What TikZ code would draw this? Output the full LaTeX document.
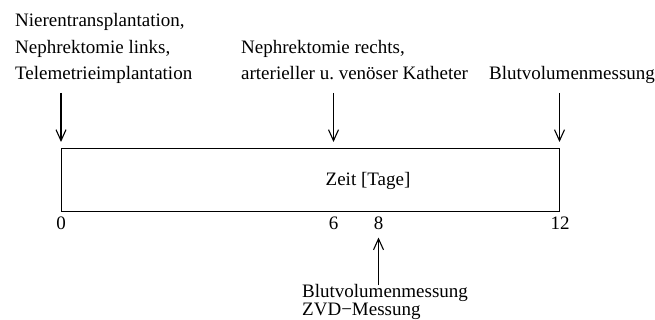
\documentclass[tikz,border=0pt]{standalone}
\usepackage{fontspec}
\setmainfont{Liberation Serif}
\usetikzlibrary{arrows.meta}
\begin{document}
\begin{tikzpicture}[x=1pt,y=-1pt,
  lbl/.style={inner sep=0pt,font=\fontsize{19}{23}\selectfont},
  arr/.style={line width=1.1pt,-{Straight Barb[length=11pt,width=10pt,line width=1.1pt]}},
  timebox/.style={draw,line width=1.4pt,inner sep=0pt,minimum width=498pt,minimum height=63pt,anchor=north west}]
\useasboundingbox (0,0) rectangle (655,320);

% event descriptions above the time line
\node[lbl,anchor=base west] (l1) at (15,26.7) {Nierentransplantation,};
\node[lbl,anchor=base west] (l2) at (15,53.3) {Nephrektomie links,};
\node[lbl,anchor=base west] (l3) at (15,80) {Telemetrieimplantation};
\node[lbl,anchor=base west] (m1) at (241,53.3) {Nephrektomie rechts,};
\node[lbl,anchor=base west] (m2) at (241,80) {arterieller u.\ venöser Katheter};
\node[lbl,anchor=base west] (r1) at (489,80) {Blutvolumenmessung};

% time line box
\node[timebox] (box) at (61,148) {};
\node[lbl] (zeit) at (368,181) {Zeit [Tage]};

% day labels
\node[lbl,anchor=base] (d0) at (61,229.5) {0};
\node[lbl,anchor=base] (d6) at (333.5,229.5) {6};
\node[lbl,anchor=base] (d8) at (378.5,229.5) {8};
\node[lbl,anchor=base] (d12) at (560,229.5) {12};

% event description below the time line
\node[lbl,anchor=base west] (b1) at (302,297) {Blutvolumenmessung};
\node[lbl,anchor=base west] (b2) at (302,315.5) {ZVD−Messung};

% arrows
\coordinate (s0) at (61,93);   \coordinate (e0) at (61,142);
\coordinate (s6) at (333.5,93); \coordinate (e6) at (333.5,142);
\coordinate (s12) at (559.5,93); \coordinate (e12) at (559.5,142);
\coordinate (s8) at (378.5,285); \coordinate (e8) at (378.5,237.5);
\draw[arr] (s0) -- (e0);
\draw[arr] (s6) -- (e6);
\draw[arr] (s12) -- (e12);
\draw[arr] (s8) -- (e8);
\end{tikzpicture}
\end{document}
